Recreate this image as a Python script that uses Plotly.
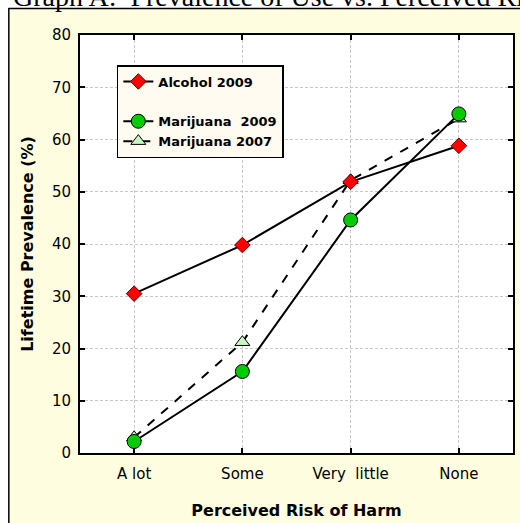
import plotly.graph_objects as go

categories = ["A lot", "Some", "Very\u00a0 little", "None"]
alcohol_2009 = [30.5, 39.8, 51.9, 58.8]
marijuana_2009 = [2.2, 15.6, 44.6, 64.9]
marijuana_2007 = [3.0, 21.2, 52.2, 64.0]
y_ticks = [0, 10, 20, 30, 40, 50, 60, 70, 80]

W, H = 520, 523
ML, MR, MT, MB = 80, 5, 35, 70
PW, PH = W - ML - MR, H - MT - MB

def px(x):
    return (x - ML) / PW

def py(y):
    return (H - MB - y) / PH

SANS = "DejaVu Sans, Arial"

fig = go.Figure()

fig.add_trace(go.Scatter(
    x=categories, y=marijuana_2007, name="Marijuana 2007", mode="lines+markers",
    line=dict(color="black", width=2, dash="dash"),
    marker=dict(symbol="triangle-up", size=13, color="#c8f5c0", line=dict(color="black", width=1)),
    legendrank=4))
fig.add_trace(go.Scatter(
    x=categories, y=marijuana_2009, name="Marijuana\u00a0 2009", mode="lines+markers",
    line=dict(color="black", width=2),
    marker=dict(symbol="circle", size=14, color="#00cc00", line=dict(color="black", width=1)),
    legendrank=3))
fig.add_trace(go.Scatter(
    x=categories, y=alcohol_2009, name="Alcohol 2009", mode="lines+markers",
    line=dict(color="black", width=2),
    marker=dict(symbol="diamond", size=12, color="#ff0000", line=dict(color="#600000", width=1)),
    legendrank=1))
# blank legend row (gap in the legend)
fig.add_trace(go.Scatter(
    x=[None], y=[None], name=" ", mode="markers",
    marker=dict(color="rgba(0,0,0,0)"), legendrank=2, hoverinfo="skip"))

fig.update_layout(
    width=W, height=H,
    margin=dict(l=ML, r=MR, t=MT, b=MB, pad=0),
    paper_bgcolor="#fffde0",
    plot_bgcolor="white",
    font=dict(family=SANS, size=15, color="black"),
    showlegend=True,
    legend=dict(
        x=px(117), y=py(65), xanchor="left", yanchor="top",
        bgcolor="#fffbf0", bordercolor="black", borderwidth=1.5,
        font=dict(family=SANS, size=13, color="black", weight="bold"),
        traceorder="normal", itemwidth=30, tracegroupgap=0,
    ),
    xaxis=dict(
        type="category", range=[-0.5, 3.5],
        showline=True, linecolor="black", linewidth=2, mirror="ticks",
        ticks="inside", ticklen=5, tickcolor="black", tickwidth=1.5,
        showgrid=True, gridcolor="#c8c8c8", griddash="3px,2px", gridwidth=1,
        tickfont=dict(size=15), zeroline=False, ticklabelstandoff=6,
        title=dict(text="<b>Perceived Risk of Harm</b>", font=dict(size=16), standoff=23),
    ),
    yaxis=dict(
        range=[0, 80], tickvals=y_ticks,
        showline=True, linecolor="black", linewidth=2, mirror="ticks",
        ticks="inside", ticklen=5, tickcolor="black", tickwidth=1.5,
        showgrid=True, gridcolor="#c8c8c8", griddash="3px,2px", gridwidth=1,
        tickfont=dict(size=15), zeroline=False, ticklabelstandoff=4,
        title=dict(text="<b>Lifetime Prevalence (%)</b>", font=dict(size=16), standoff=14),
    ),
    shapes=[
        dict(type="rect", xref="paper", yref="paper", x0=px(-10), x1=px(W + 10),
             y0=py(8), y1=py(-10), fillcolor="white", line=dict(width=0), layer="below"),
        dict(type="rect", xref="paper", yref="paper", x0=px(-10), x1=px(8),
             y0=py(H + 10), y1=py(-10), fillcolor="white", line=dict(width=0), layer="below"),
        dict(type="line", xref="paper", yref="paper", x0=px(8), x1=px(W + 10),
             y0=py(8.5), y1=py(8.5), line=dict(color="black", width=1.5)),
        dict(type="line", xref="paper", yref="paper", x0=px(8.5), x1=px(8.5),
             y0=py(8), y1=py(H + 10), line=dict(color="black", width=1.5)),
    ],
    annotations=[
        dict(text="Graph A:  Prevalence of Use vs. Perceived Risk of Harm",
             xref="paper", yref="paper", x=px(11), y=py(14), xanchor="left", yanchor="bottom",
             showarrow=False, font=dict(family="Liberation Serif, Times New Roman", size=28, color="black")),
    ],
)

fig.write_html("out.html", config={"displayModeBar": False},
               post_script="document.body.style.margin='0px';document.body.style.overflow='hidden';")
